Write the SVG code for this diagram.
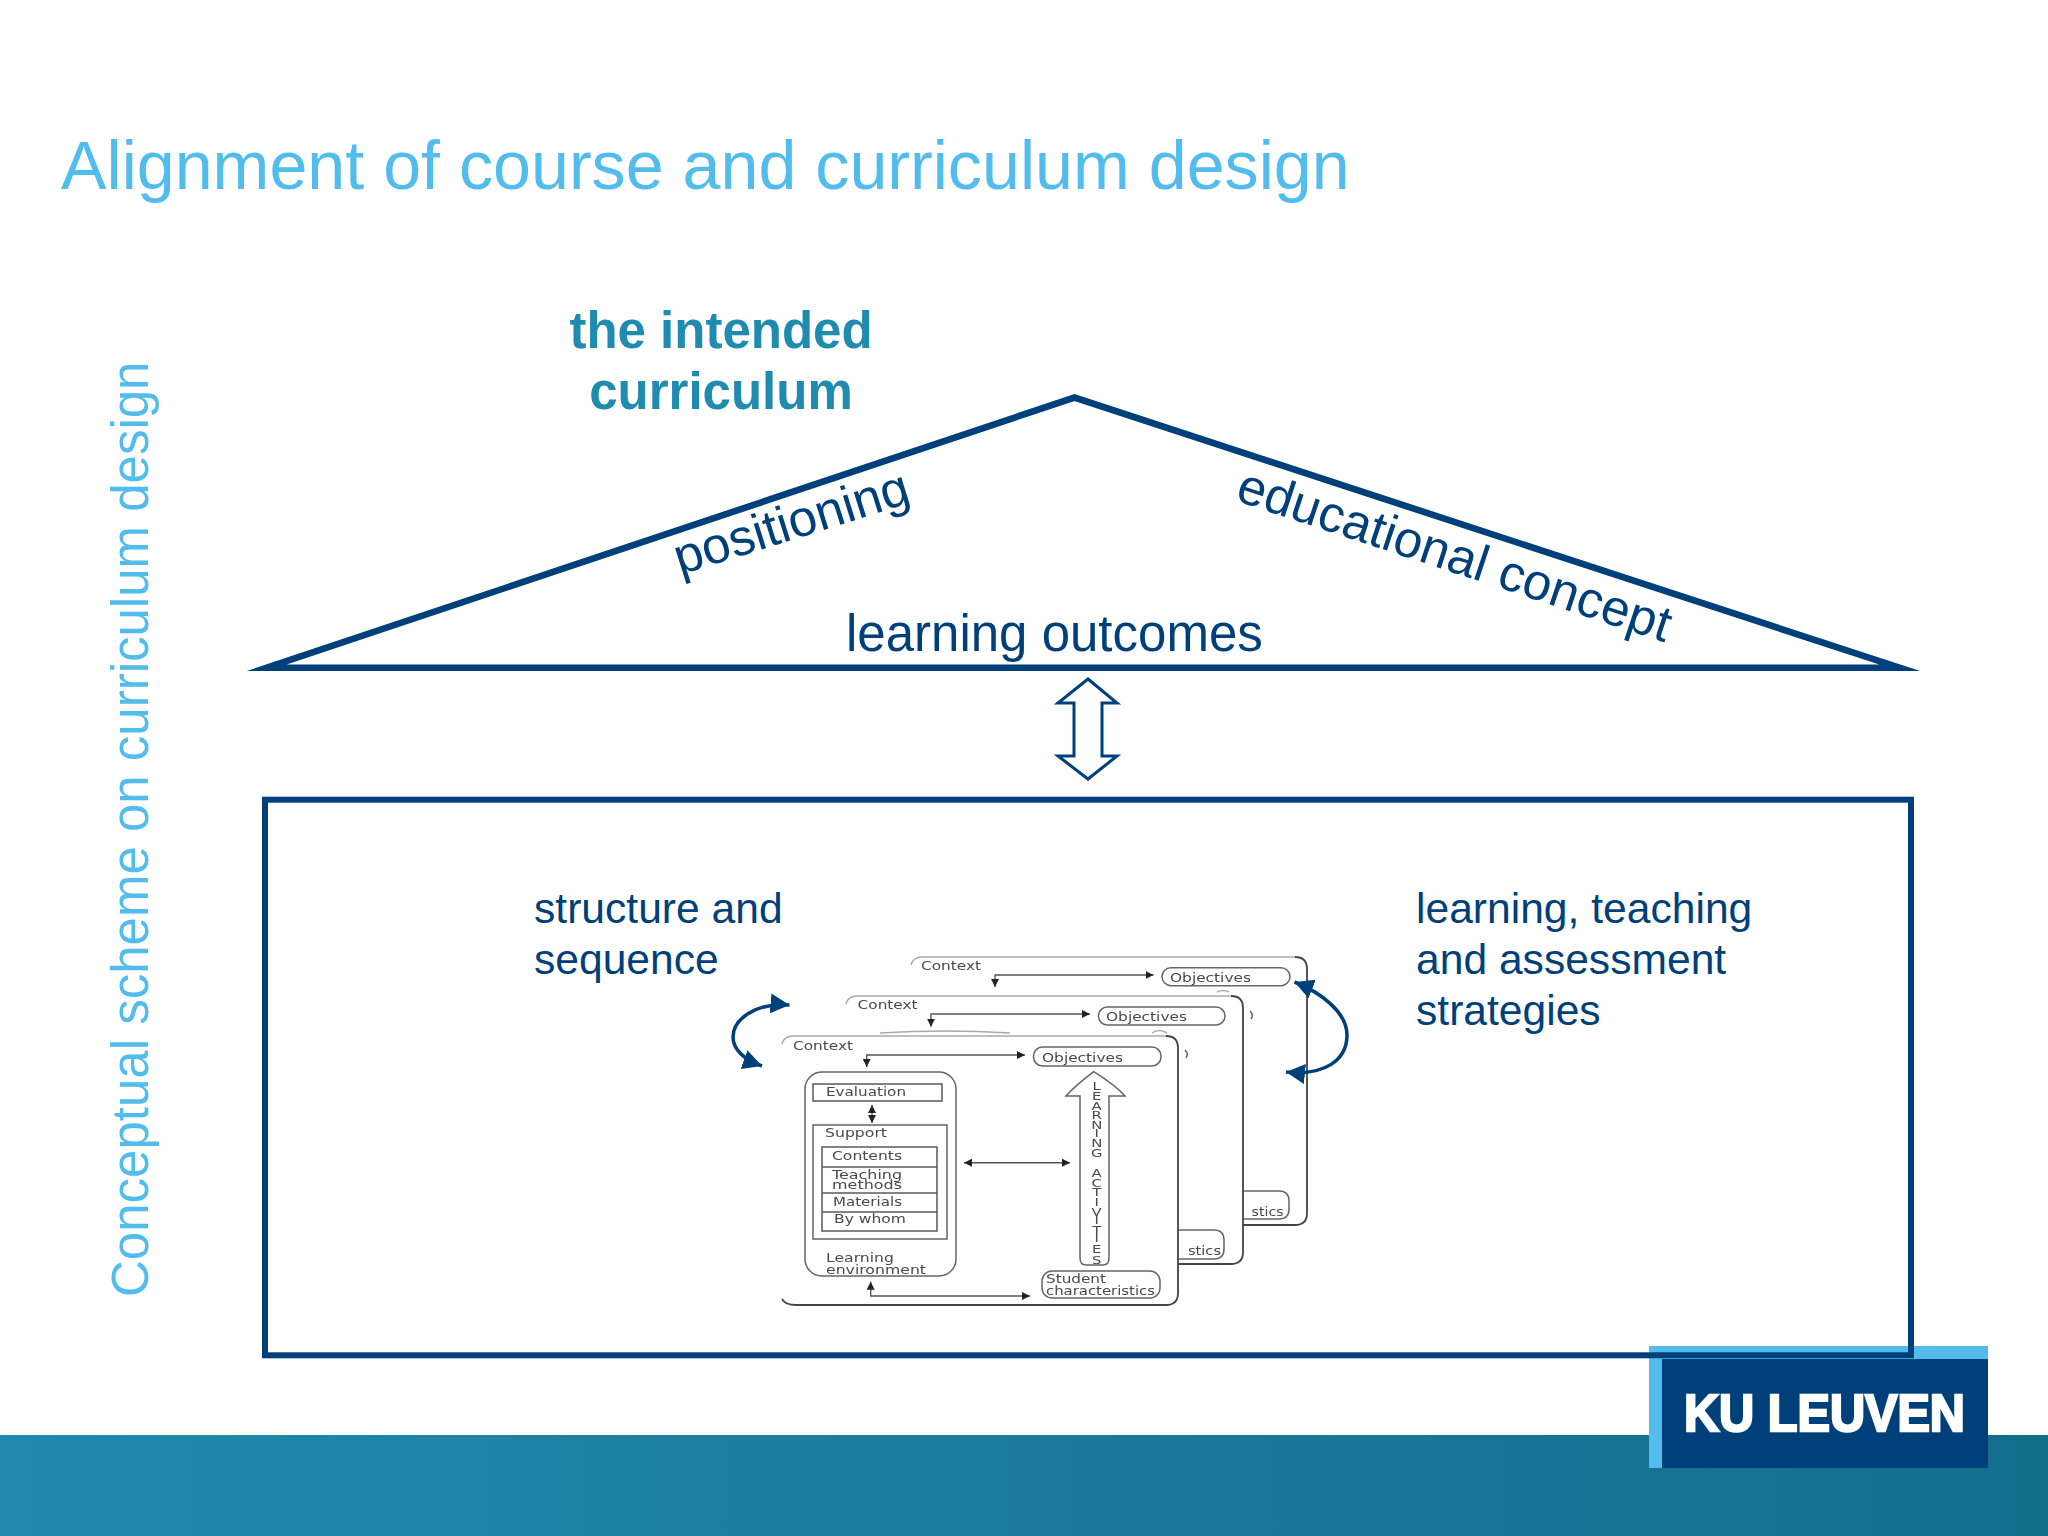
<svg xmlns="http://www.w3.org/2000/svg" width="2048" height="1536" viewBox="0 0 2048 1536">
<style>
.s{font-family:"Liberation Sans",Arial,sans-serif}
.lb{fill:#52BDEC}
.db{fill:#00407A}
.f51{font-size:51px}
.f42{font-size:42.6px}
.ln{fill:none;stroke:#00407A;stroke-width:6}
.rf{stroke-width:6.6;stroke-miterlimit:30}
.g{fill:none;stroke:#666;stroke-width:1.5}
.ge{fill:none;stroke:#444;stroke-width:1.8}
.gi{fill:none;stroke:#5a5a5a;stroke-width:1.5}
.gf{fill:none;stroke:#aaa;stroke-width:1.5}
.w{fill:#fff}
.t{font-family:"DejaVu Sans",Verdana,sans-serif;font-size:11.5px;fill:#4a4a4a}
.cc{fill:none;stroke:#555;stroke-width:1.4;marker-start:url(#sa);marker-end:url(#sa)}
.cv{fill:none;stroke:#00407A;stroke-width:3.5;marker-start:url(#ba);marker-end:url(#ba)}
</style>
<defs>
<linearGradient id="band" x1="0" y1="0" x2="1" y2="0"><stop offset="0" stop-color="#2189AE"/><stop offset="1" stop-color="#136E8C"/></linearGradient>
<marker id="sa" markerUnits="userSpaceOnUse" markerWidth="10" markerHeight="8" refX="8" refY="4" orient="auto-start-reverse"><path d="M0,0L8,4L0,8Z" fill="#222"/></marker>
<marker id="ba" markerUnits="userSpaceOnUse" markerWidth="22" markerHeight="22" refX="19" refY="10" orient="auto-start-reverse"><path d="M0,0L19,10L0,20Z" fill="#00407A"/></marker>
<filter id="soft" x="-5%" y="-5%" width="110%" height="110%"><feGaussianBlur stdDeviation="0.6"/></filter>
</defs>
<rect width="2048" height="1536" fill="#fff"/>
<rect id="band-bottom" x="0" y="1435" width="2048" height="101" fill="url(#band)"/>
<text id="title" class="s lb" x="61" y="189" font-size="68.2">Alignment of course and curriculum design</text>
<text id="side-label" class="s lb f51" transform="translate(148,1297) rotate(-90)">Conceptual scheme on curriculum design</text>
<g id="intended"><text class="s" x="721" y="348" text-anchor="middle" font-size="51" font-weight="700" fill="#1F8BAE">the intended</text><text class="s" x="721" y="409" text-anchor="middle" font-size="51" font-weight="700" fill="#1F8BAE">curriculum</text></g>
<g id="roof"><path class="ln rf" d="M267,667.7L1074.5,397.5L1899.5,667.7Z"/>
<text class="s db f51" transform="translate(680,575) rotate(-17.4)">positioning</text>
<text class="s db f51" transform="translate(1234,500) rotate(18.3)">educational concept</text>
<text class="s db f51" x="846" y="651">learning outcomes</text></g>
<path id="exchange" fill="#fff" stroke="#00407A" stroke-width="3" d="M1088,679L1117,703H1102V756H1117L1088,779L1058,756H1074V703H1058Z"/>
<rect id="frame" class="ln" x="265" y="799.7" width="1646" height="555.6"/>
<g id="logo"><path fill="#52BDEC" d="M1649,1346H1988V1359H1662V1468H1649Z"/><rect x="1662" y="1359" width="326" height="109" fill="#00407A"/>
<path fill="none" stroke="#00407A" stroke-width="6" d="M1649,1355.3H1911V1340"/>
<text class="s" x="1684" y="1431" font-size="52" font-weight="700" fill="#fff" stroke="#fff" stroke-width="2.4" textLength="281" lengthAdjust="spacingAndGlyphs">KU LEUVEN</text></g>
<g id="label-structure"><text class="s db f42" x="534" y="923">structure and</text><text class="s db f42" x="534" y="974">sequence</text></g>
<g id="label-strategies"><text class="s db f42" x="1416" y="923">learning, teaching</text><text class="s db f42" x="1416" y="974">and assessment</text><text class="s db f42" x="1416" y="1025">strategies</text></g>
<g filter="url(#soft)">
<g id="card-back"><rect class="w" x="911" y="957" width="396" height="268" rx="12"/>
<path class="gf" d="M911,965Q913,957 922,957H1295"/><path class="ge" d="M1295,957Q1307,957 1307,969V1213Q1307,1225 1295,1225H1243"/>
<rect class="g" x="1162" y="967.7" width="128" height="18" rx="9"/>
<text class="t" x="921" y="970" textLength="60" lengthAdjust="spacingAndGlyphs">Context</text>
<text class="t" x="1170" y="981.7" textLength="81" lengthAdjust="spacingAndGlyphs">Objectives</text>
<path class="g" d="M1240,1191H1279Q1289,1191 1289,1201V1209Q1289,1219 1279,1219H1240"/>
<text class="t" x="1251.6" y="1216" textLength="32" lengthAdjust="spacingAndGlyphs">stics</text>
<path class="gf" d="M1217,992Q1223,989 1229,992"/></g>
<g id="card-mid"><rect class="w" x="846" y="996" width="397" height="268" rx="12"/>
<path class="gf" d="M846,1004Q848,996 857,996H1231"/><path class="ge" d="M1231,996Q1243,996 1243,1008V1252Q1243,1264 1231,1264H1178"/>
<rect class="g" x="1098.4" y="1007" width="126.6" height="18" rx="9"/>
<text class="t" x="857.6" y="1009" textLength="60" lengthAdjust="spacingAndGlyphs">Context</text>
<text class="t" x="1106" y="1020.7" textLength="81" lengthAdjust="spacingAndGlyphs">Objectives</text>
<path class="g" d="M1250,1011Q1254,1015 1251,1019"/>
<path class="gf" d="M880,1033Q945,1029 1010,1033"/>
<path class="gf" d="M1152,1033Q1159,1028 1167,1033"/>
<path class="g" d="M1178,1230H1214Q1224,1230 1224,1240V1249Q1224,1259 1214,1259H1178"/>
<text class="t" x="1188" y="1255" textLength="33" lengthAdjust="spacingAndGlyphs">stics</text></g>
<g id="card-front"><rect class="w" x="782" y="1036" width="396" height="269" rx="12"/>
<path class="gf" d="M782,1044Q784,1036 793,1036H1166"/><path class="ge" d="M1166,1036Q1178,1036 1178,1048V1293Q1178,1305 1166,1305H796Q785,1305 782,1299"/>
<path class="g" d="M1185,1050Q1189,1054 1186,1058"/>
<text class="t" x="793" y="1050" textLength="60" lengthAdjust="spacingAndGlyphs">Context</text>
<rect class="g" x="1033.5" y="1047" width="127.5" height="19" rx="9"/>
<text class="t" x="1042" y="1061.7" textLength="81" lengthAdjust="spacingAndGlyphs">Objectives</text>
<rect class="g" x="805" y="1072" width="151" height="204" rx="17"/>
<rect class="gi" x="813" y="1084" width="129" height="17"/>
<text class="t" x="826" y="1096" textLength="80" lengthAdjust="spacingAndGlyphs">Evaluation</text>
<rect class="g" x="813" y="1125" width="134" height="114"/>
<text class="t" x="825" y="1137" textLength="62" lengthAdjust="spacingAndGlyphs">Support</text>
<path class="gi" d="M822,1147H937V1231H822ZM822,1167H937M822,1193H937M822,1212H937"/>
<text class="t" x="832" y="1160" textLength="70" lengthAdjust="spacingAndGlyphs">Contents</text>
<text class="t" x="832" y="1179" textLength="70" lengthAdjust="spacingAndGlyphs">Teaching</text>
<text class="t" x="832" y="1189" textLength="70" lengthAdjust="spacingAndGlyphs">methods</text>
<text class="t" x="833" y="1206" textLength="69" lengthAdjust="spacingAndGlyphs">Materials</text>
<text class="t" x="834" y="1223" textLength="72" lengthAdjust="spacingAndGlyphs">By whom</text>
<text class="t" x="826" y="1262" textLength="68" lengthAdjust="spacingAndGlyphs">Learning</text>
<text class="t" x="826" y="1274" textLength="100" lengthAdjust="spacingAndGlyphs">environment</text>
<path class="g" d="M1093.7,1071.7Q1115,1085 1125,1096H1109V1258Q1109,1265 1103,1265H1086Q1080,1265 1080,1258V1096H1066Q1076,1085 1093.7,1071.7Z"/>
<text class="t" transform="translate(1096.7,0) scale(1.35,1)" x="0 0 0 0 0 0 0 0 0 0 0 0 0 0 0 0 0 0 0" y="1090 1100 1110 1119 1129 1137 1147 1157 1167 1177 1187 1196 1206 1216 1224 1234 1242 1253 1264" text-anchor="middle" style="font-size:11px">LEARNING ACTIVITIES</text>
<rect class="g" x="1042" y="1271" width="118" height="27" rx="10"/>
<text class="t" x="1046" y="1282.7" textLength="60" lengthAdjust="spacingAndGlyphs">Student</text>
<text class="t" x="1046" y="1295" textLength="109" lengthAdjust="spacingAndGlyphs">characteristics</text></g>
<g id="connectors">
<path class="cc" d="M1153.5,975H995V987"/>
<path class="cc" d="M1090,1014H931V1026.7"/>
<path class="cc" d="M1025,1055H866.7V1067"/>
<path class="cc" d="M872,1105V1123"/>
<path class="cc" d="M964,1162.7H1070"/>
<path class="cc" d="M870.7,1281.7V1296H1030"/>
</g>
</g>
<g id="cycle-arrows">
<path class="cv" d="M789.5,1005C755,1002 733,1020 733,1037C733,1050 745,1060 762,1066"/>
<path class="cv" d="M1294.5,982C1320,992 1347,1012 1347,1035C1347,1060 1325,1076 1286,1072"/>
</g>
</svg>
